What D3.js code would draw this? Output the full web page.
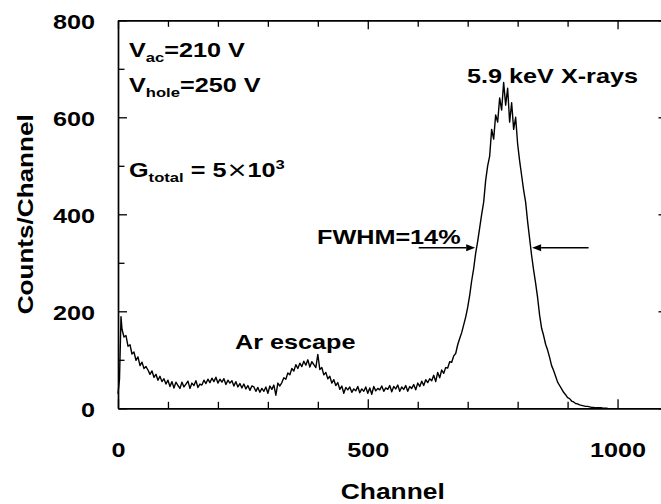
<!DOCTYPE html>
<html><head><meta charset="utf-8">
<script src="https://cdn.jsdelivr.net/npm/d3@7"></script>
<style>
html,body{margin:0;padding:0;background:#fff;}
svg{display:block;}
text{font-family:"Liberation Sans",Arial,Helvetica,sans-serif;font-weight:bold;fill:#000;}
</style></head><body>
<svg id="chart" width="661" height="504"></svg>
<script>
// ---------- data ----------
const leadChannels = [0, 3, 6];
const leadCounts = [30, 60, 189];
const chStart = 8, chStep = 4;
const counts = [
 163,147,150,128,131,112,116,99,106,88,
 95,82,86,79,70,77,64,70,58,66,
 55,61,50,58,45,55,42,54,47,41,
 54,44,50,56,41,52,47,57,43,50,
 48,58,51,60,53,62,55,64,52,60,
 54,61,49,58,52,57,46,55,44,51,
 42,50,40,47,37,46,44,35,43,33,
 41,35,44,31,46,39,48,27,52,46,
 53,63,60,73,69,82,77,90,82,93,
 86,97,89,100,85,96,90,84,111,80,
 84,69,74,61,66,52,59,47,53,39,
 46,31,43,38,44,33,40,36,45,32,
 40,35,44,31,42,29,45,36,41,38,
 46,35,42,39,47,34,45,40,48,35,
 44,39,47,35,45,41,49,38,52,45,
 56,47,59,53,61,57,68,55,74,63,
 79,72,84,83,96,95,108,113,131,144,
 156,172,188,208,233,263,288,320,344,372,
 400,425,470,500,520,575,555,605,590,640,
 615,672,625,660,590,630,575,600,545,510,
 480,450,425,385,350,315,285,258,228,192,
 165,150,132,120,105,88,78,66,54,47,
 40,33,28,22,20,15,13,10,9,7,
 6,5,4,4,3,2,2,1,1,1,
 1,0,0,0
];
const xTickValues = [0,100,200,300,400,500,600,700,800,900,1000,1100];
const xLabelValues = [0,500,1000];
const yTickValues = [0,100,200,300,400,500,600,700,800];
const yLabelValues = [0,200,400,600,800];
const fwhmLevel = 331;
const fwhmLeftArrow = [602, 715];   // from, to (channel)
const fwhmRightArrow = [942, 829];

// ---------- build ----------
const svg = d3.select("#chart");
const x = d3.scaleLinear().domain([0,1100]).range([118,667.5]);
const y = d3.scaleLinear().domain([0,800]).range([408.3,20.3]);

const data = leadChannels.map((c,i)=>({ch:c, v:leadCounts[i]}))
  .concat(counts.map((v,i)=>({ch: chStart + i*chStep, v})));

const MINOR = 6.5, MAJOR = 9;
function styleAxis(g){
  g.attr("font-family", null).attr("font-size", null);
  g.select(".domain").attr("stroke","#000").attr("stroke-width",1.7);
  g.selectAll(".tick line").attr("stroke","#000").attr("stroke-width",1.3);
}

// bottom axis
const gB = svg.append("g").attr("transform",`translate(0,${y(0)})`)
  .call(d3.axisBottom(x).tickValues(xTickValues).tickSizeOuter(0).tickSizeInner(-MINOR)
    .tickFormat(d => xLabelValues.includes(d) ? d : ""));
styleAxis(gB);
gB.selectAll(".tick line").attr("y2", d => xLabelValues.includes(d) ? -MAJOR : -MINOR);
gB.selectAll(".tick text").attr("y",0).attr("dy",0).attr("fill","#000")
  .attr("font-size",20.5).attr("text-anchor","middle")
  .attr("transform","translate(0,48.4) scale(1.23,1)");

// top axis
const gT = svg.append("g").attr("transform",`translate(0,${y(800)})`)
  .call(d3.axisTop(x).tickValues(xTickValues).tickSizeOuter(0).tickSizeInner(-MINOR).tickFormat(()=>""));
styleAxis(gT);
gT.selectAll(".tick line").attr("y2", d => xLabelValues.includes(d) ? MAJOR : MINOR);

// left axis
const gL = svg.append("g").attr("transform",`translate(${x(0)},0)`)
  .call(d3.axisLeft(y).tickValues(yTickValues).tickSizeOuter(0).tickSizeInner(-MINOR)
    .tickFormat(d => yLabelValues.includes(d) ? d : ""));
styleAxis(gL);
gL.selectAll(".tick line").attr("x2", d => yLabelValues.includes(d) ? MAJOR : MINOR);
gL.selectAll(".tick text").attr("x",0).attr("dy",0).attr("fill","#000")
  .attr("font-size",20.5).attr("text-anchor","end")
  .attr("transform","translate(-23,8.4) scale(1.23,1)");

// right axis
const gR = svg.append("g").attr("transform",`translate(${x(1100)},0)`)
  .call(d3.axisRight(y).tickValues(yTickValues).tickSizeOuter(0).tickSizeInner(-MINOR).tickFormat(()=>""));
styleAxis(gR);
gR.selectAll(".tick line").attr("x2", d => yLabelValues.includes(d) ? -MAJOR : -MINOR);

// spectrum line
svg.append("path").datum(data)
  .attr("fill","none").attr("stroke","#000").attr("stroke-width",1.4)
  .attr("stroke-linejoin","round")
  .attr("d", d3.line().x(d=>x(d.ch)).y(d=>y(d.v)));

// arrows
function arrow(from, to){
  const x0 = x(from), x1 = x(to), yy = y(fwhmLevel);
  const dir = Math.sign(x1 - x0), L = 9, W = 3.6;
  svg.append("line").attr("x1",x0).attr("x2",x1 - dir*L).attr("y1",yy).attr("y2",yy)
    .attr("stroke","#000").attr("stroke-width",1.3);
  svg.append("path").attr("d",`M${x1},${yy}L${x1-dir*L},${yy-W}L${x1-dir*L},${yy+W}Z`).attr("fill","#000");
}
arrow(fwhmLeftArrow[0], fwhmLeftArrow[1]);
arrow(fwhmRightArrow[0], fwhmRightArrow[1]);

// text helper
function addText(px, py, segs, opts={}){
  const sx = opts.sx || 1.23;
  const t = svg.append("text")
    .attr("transform", `translate(${px},${py})${opts.rot ? " rotate("+opts.rot+")" : ""} scale(${sx},1)`)
    .attr("text-anchor", opts.anchor || "start")
    .attr("font-size", opts.fs || 20.5);
  segs.forEach(s => {
    const ts = t.append("tspan").text(s.t);
    if (s.fs) ts.attr("font-size", s.fs);
    if (s.dy) ts.attr("dy", s.dy);
    if (s.ff) ts.attr("font-family", s.ff).attr("font-weight","normal");
  });
  return t;
}
const SUB = 13.5;
addText(129, 57, [{t:"V"},{t:"ac",fs:SUB,dy:5},{t:"=210 V",dy:-5}]);
addText(129, 92, [{t:"V"},{t:"hole",fs:SUB,dy:5},{t:"=250 V",dy:-5}]);
addText(129, 177, [{t:"G"},{t:"total",fs:SUB,dy:5},{t:" = 5",dy:-5},{t:"×",ff:"DejaVu Sans"},{t:"10"},{t:"3",fs:SUB,dy:-8}]);
addText(467, 83, [{t:"5.9 keV X-rays"}]);
addText(317, 244, [{t:"FWHM=14%"}]);
addText(235, 349, [{t:"Ar escape"}]);

// axis titles
addText((x(0)+x(1100))/2, 499, [{t:"Channel"}], {anchor:"middle", fs:22, sx:1.2});
addText(32.5, (y(0)+y(800))/2, [{t:"Counts/Channel"}], {anchor:"middle", fs:22.5, sx:1.16, rot:-90});
</script>
</body></html>
